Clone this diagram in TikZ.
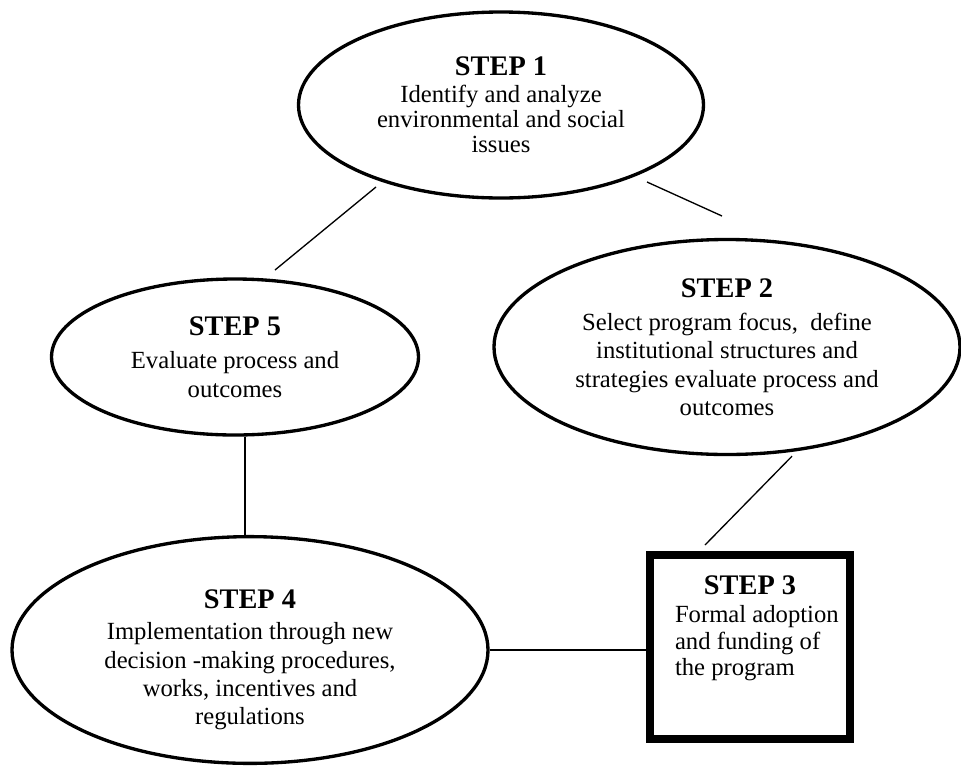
\documentclass[tikz,border=0pt]{standalone}
\usepackage{fontspec}
\setmainfont{Liberation Serif}
\usetikzlibrary{shapes.geometric, positioning, calc}

\newcommand{\steptitle}[1]{{\fontsize{17}{20}\selectfont\bfseries STEP #1}}

\begin{document}
\begin{tikzpicture}[x=0.6pt, y=-0.6pt,
  stepellipse/.style 2 args={ellipse, draw, line width=2pt, inner sep=0pt, minimum width=#1*0.6pt, minimum height=#2*0.6pt, align=center, font=\fontsize{14.8}{17}\selectfont},
  stepbox/.style={rectangle, draw, line width=4.8pt, inner sep=0pt, minimum width=120pt, minimum height=110.4pt},
  link/.style={line width=0.8pt}]
\useasboundingbox (0,0) rectangle (961,766);

% Steps

\node [stepellipse={405}{186}, font=\fontsize{14.8}{15}\selectfont] (step1) at (501,105)
{\steptitle{1}\\[1pt]
Identify and analyze\\
environmental and social\\
issues};

\node [stepellipse={466}{215}] (step2) at (727,347)
{\steptitle{2}\\[3pt]
Select program focus, \ define\\
institutional structures and\\
strategies evaluate process and\\
outcomes};

\node [stepellipse={367}{156}] (step5) at (235,357)
{\steptitle{5}\\[3pt]
Evaluate process and\\
outcomes};

\node [stepellipse={476}{226}] (step4) at (250,650)
{\rule{0pt}{23pt}\steptitle{4}\\[2pt]
Implementation through new\\
decision -making procedures,\\
works, incentives and\\
regulations};

\node [stepbox] (step3) at (750,647)
{\parbox[c][104pt][t]{108pt}{\vspace*{9pt}%
\centering\steptitle{3}\par\vspace{1pt}
\raggedright\leftskip=9pt\fontsize{14.8}{16}\selectfont
Formal adoption\\
and funding of\\
the program}};

% Links

\draw[link] ($(step1.center)+(-125,82)$) -- ($(step5.center)+(40,-87)$);

\draw[link] ($(step1.center)+(146,77)$) -- ($(step2.center)+(-5,-131)$);

\draw[link] ($(step2.south)+(65,0)$) -- ($(step3.north)+(-45,-6)$);

\draw[link] ($(step5.south)+(10,0)$) -- ($(step4.north)+(-5,0)$);

\draw[link] (step4.east) -- (step4.east -| step3.west);

\end{tikzpicture}
\end{document}
